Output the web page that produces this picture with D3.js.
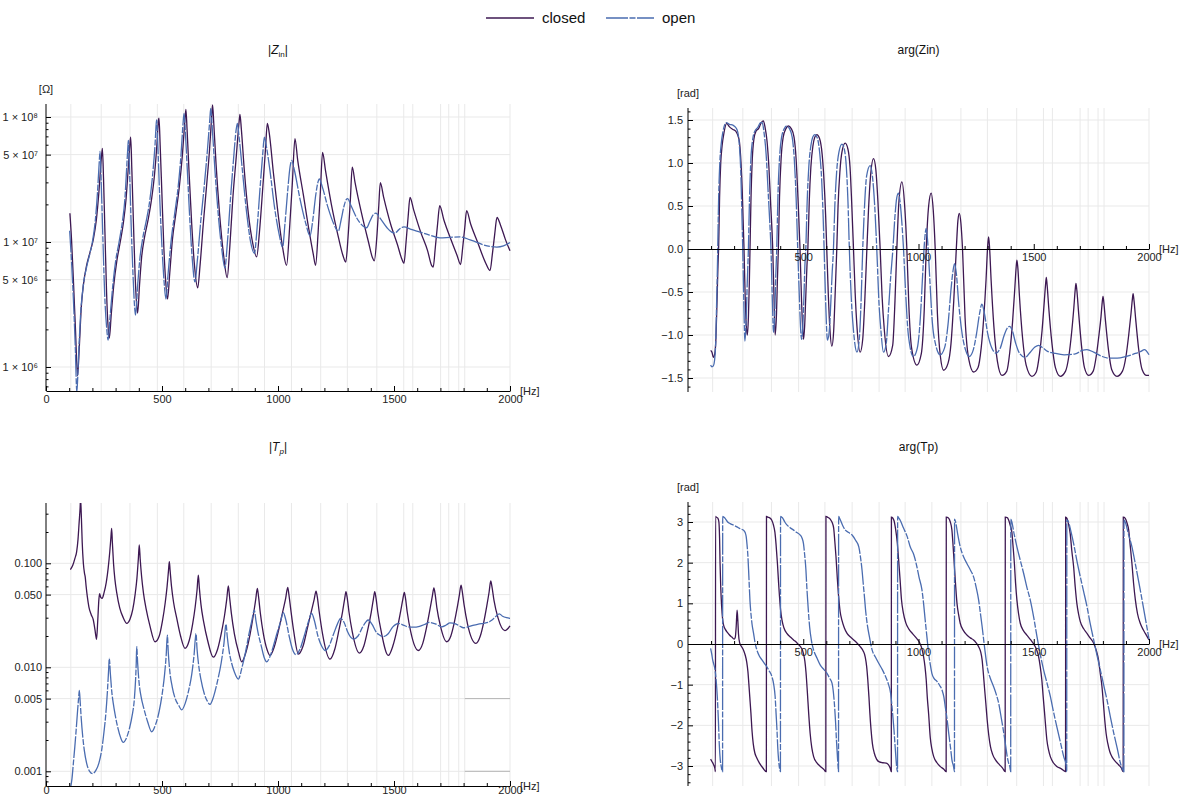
<!DOCTYPE html>
<html>
<head>
<meta charset="utf-8">
<script src="https://cdn.jsdelivr.net/npm/d3@7"></script>
<style>
body { margin: 0; background: #fff; }
</style>
</head>
<body>
<script>
// frequencies (Hz) of the vertical grid lines, same in every panel
const gridHz = [107, 238, 362, 480, 594, 712, 829, 942, 1058, 1184, 1299, 1426, 1542, 1581, 1701, 1736, 1779, 1805, 2000]

const seriesNames = ['closed', 'open']

// |Zin| [Ohm]
const zinClosed = [[103,1.7e7],[110,1.05e7],[118,5e6],[127,2e6],[136,8.5e5],[144,1.5e6],[152,3e6],[161,4.5e6],[175,6.5e6],[190,8.3e6],[204,1.05e7],[217,1.5e7],[228,2.5e7],[237,4.3e7],[243,5.6e7],[248,3.2e7],[254,1.2e7],[261,4e6],[267,2.2e6],[273,1.7e6],[281,2.6e6],[292,4.5e6],[305,7e6],[320,1e7],[333,1.4e7],[345,2.2e7],[355,4e7],[362,6.2e7],[365,6.9e7],[370,3.8e7],[377,1.4e7],[384,5.5e6],[390,3.3e6],[395,2.7e6],[403,4.5e6],[412,7.5e6],[425,1.1e7],[440,1.5e7],[455,2.2e7],[468,3.5e7],[478,6e7],[485,9.5e7],[487,9.8e7],[492,6e7],[500,2.3e7],[508,9e6],[516,4.8e6],[524,3.5e6],[533,5.5e6],[545,1.05e7],[560,1.7e7],[575,2.8e7],[588,5e7],[598,9e7],[603,1.15e8],[608,8e7],[617,3.5e7],[628,1.4e7],[640,6.5e6],[654,4.3e6],[664,6.5e6],[678,1.4e7],[692,2.8e7],[705,5.5e7],[714,1e8],[718,1.25e8],[723,9e7],[733,4.2e7],[748,1.7e7],[765,8e6],[781,5.2e6],[792,9e6],[805,2.2e7],[820,4.8e7],[832,9e7],[836,1.05e8],[842,8e7],[855,3.7e7],[872,1.7e7],[890,1e7],[908,7.6e6],[920,1.2e7],[933,2.5e7],[946,5.5e7],[954,8.9e7],[962,7.5e7],[980,3.6e7],[1000,1.7e7],[1020,9e6],[1037,6.5e6],[1050,1.3e7],[1062,3e7],[1073,6.7e7],[1085,4.5e7],[1109,2.4e7],[1135,1.2e7],[1152,8e6],[1162,6.5e6],[1173,1.2e7],[1183,2.6e7],[1192,5.2e7],[1205,3.7e7],[1230,2e7],[1260,1.1e7],[1280,7.8e6],[1292,6.9e6],[1302,1.1e7],[1312,2.2e7],[1320,3.97e7],[1332,3e7],[1360,1.7e7],[1390,1e7],[1407,7.5e6],[1415,7.07e6],[1426,1.1e7],[1434,1.9e7],[1441,2.98e7],[1455,2.3e7],[1485,1.4e7],[1515,9.5e6],[1535,7.2e6],[1543,6.76e6],[1552,1e7],[1561,1.6e7],[1569,2.27e7],[1585,1.8e7],[1615,1.2e7],[1645,8.5e6],[1662,6.5e6],[1669,6.3e6],[1678,9e6],[1688,1.4e7],[1697,1.95e7],[1715,1.5e7],[1745,1.05e7],[1772,7.8e6],[1787,6.6e6],[1796,9e6],[1805,1.3e7],[1813,1.78e7],[1830,1.4e7],[1860,1e7],[1895,6.8e6],[1914,5.9e6],[1924,8e6],[1934,1.15e7],[1944,1.57e7],[1960,1.35e7],[1980,1.05e7],[2000,8.5e6]]

const zinOpen = [[102,1.23e7],[110,7e6],[118,3.5e6],[126,1.5e6],[133,6.3e5],[140,1.2e6],[150,2.8e6],[160,4.4e6],[175,6.3e6],[190,8.2e6],[200,1.0e7],[212,1.45e7],[222,2.5e7],[229,4.2e7],[233,5.3e7],[238,3e7],[245,1.1e7],[253,3.8e6],[262,2e6],[268,1.64e6],[276,2.5e6],[288,4.5e6],[300,7e6],[315,1e7],[328,1.4e7],[340,2.2e7],[348,4e7],[353,5.8e7],[355,6.5e7],[360,3.8e7],[367,1.4e7],[375,5.5e6],[381,3.2e6],[386,2.6e6],[395,4.5e6],[405,7.5e6],[418,1.1e7],[433,1.5e7],[448,2.2e7],[460,3.5e7],[470,6e7],[475,8.8e7],[477,9.5e7],[482,6e7],[490,2.3e7],[500,9e6],[509,4.8e6],[517,3.5e6],[526,5.5e6],[540,1.05e7],[555,1.7e7],[570,2.8e7],[582,5e7],[591,9e7],[595,1.07e8],[600,8e7],[610,3.5e7],[620,1.5e7],[630,7.5e6],[642,4.8e6],[652,7e6],[666,1.4e7],[682,2.8e7],[696,5.5e7],[706,9.5e7],[710,1.17e8],[716,8.5e7],[728,3.8e7],[742,1.7e7],[757,9e6],[771,6.2e6],[782,1e7],[795,2.2e7],[808,4.5e7],[820,8e7],[825,8.9e7],[832,7e7],[845,4e7],[865,1.7e7],[882,1e7],[898,8.1e6],[910,1.3e7],[922,2.6e7],[934,5e7],[941,6.9e7],[950,5.8e7],[965,3.77e7],[985,1.9e7],[1005,1.15e7],[1020,9.1e6],[1030,1.4e7],[1042,2.6e7],[1052,4e7],[1059,4.5e7],[1070,3.8e7],[1095,2.2e7],[1120,1.4e7],[1138,1.12e7],[1150,1.5e7],[1163,2.4e7],[1172,3e7],[1178,3.2e7],[1190,2.8e7],[1215,1.9e7],[1240,1.4e7],[1260,1.22e7],[1272,1.5e7],[1285,1.95e7],[1294,2.18e7],[1300,2.22e7],[1315,1.95e7],[1340,1.55e7],[1365,1.35e7],[1382,1.3e7],[1395,1.45e7],[1410,1.65e7],[1422,1.7e7],[1440,1.55e7],[1470,1.3e7],[1490,1.2e7],[1504,1.18e7],[1520,1.25e7],[1535,1.31e7],[1543,1.32e7],[1570,1.27e7],[1612,1.2e7],[1650,1.14e7],[1698,1.08e7],[1740,1.09e7],[1784,1.1e7],[1828,1.04e7],[1860,9.9e6],[1885,9.5e6],[1915,9.2e6],[1943,9.1e6],[1972,9.3e6],[2000,9.9e6]]

// arg(Zin) [rad]
const argZinClosed = [[98,-1.18],[104,-1.2],[110,-1.26],[116,-1.22],[121,-1.05],[126,-0.6],[130,-0.2],[133,0.03],[137,0.6],[142,1.0],[148,1.2],[156,1.35],[168,1.46],[180,1.42],[195,1.39],[207,1.37],[215,1.33],[223,1.25],[230,1.0],[235,0.7],[239,0.35],[243,0],[248,-0.55],[253,-0.9],[257.6,-1.0],[262,-0.8],[266,-0.4],[269,0],[273,0.55],[279,1.05],[286,1.28],[295,1.37],[306,1.40],[318,1.47],[327,1.49],[334,1.42],[343,1.25],[351,0.95],[358,0.55],[367.6,0],[373,-0.55],[378,-1.0],[384,-0.75],[388,-0.35],[392,0],[397,0.6],[404,1.05],[413,1.3],[425,1.4],[435,1.43],[448,1.40],[460,1.3],[469,1.05],[477,0.6],[486,0],[492,-0.55],[497,-0.9],[501,-1.05],[506,-0.9],[511,-0.55],[516,-0.2],[520,0],[526,0.55],[533,0.95],[542,1.2],[550,1.3],[559,1.33],[570,1.29],[582,1.1],[590,0.8],[597,0.4],[602,0],[609,-0.55],[615,-0.9],[624,-1.13],[632,-0.95],[638,-0.55],[645.5,0],[651,0.5],[659,0.9],[668,1.13],[682,1.23],[694,1.16],[703,0.95],[710,0.55],[718,0],[725,-0.5],[733,-0.9],[747,-1.2],[758,-1.05],[767,-0.6],[776,0],[783,0.45],[792,0.85],[805,1.05],[815,0.92],[824,0.55],[833.7,0],[842,-0.55],[852,-0.95],[870,-1.25],[888,-1.12],[898,-0.6],[906,0],[915,0.55],[928,0.78],[940,0.5],[949.5,0],[958,-0.65],[970,-1.15],[993,-1.35],[1012,-1.22],[1025,-0.7],[1033.5,0],[1044,0.5],[1055,0.65],[1064,0.45],[1072.5,0],[1082,-0.75],[1095,-1.25],[1109,-1.41],[1128,-1.33],[1141,-1.1],[1153,-0.6],[1164,0],[1171,0.33],[1177,0.415],[1184,0.3],[1191,0],[1202,-0.8],[1218,-1.28],[1239,-1.43],[1258,-1.38],[1272,-1.15],[1283,-0.8],[1293,-0.36],[1300,0.03],[1304,0.14],[1308,0.03],[1315,-0.36],[1327,-0.9],[1342,-1.3],[1362,-1.47],[1383,-1.42],[1396,-1.2],[1408,-0.85],[1418,-0.45],[1424,-0.2],[1427,-0.13],[1431,-0.22],[1438,-0.55],[1452,-1.05],[1467,-1.35],[1492,-1.48],[1511,-1.43],[1525,-1.22],[1536,-0.95],[1546,-0.6],[1551,-0.42],[1554.5,-0.33],[1558,-0.42],[1565,-0.68],[1579,-1.1],[1594,-1.38],[1615,-1.48],[1638,-1.42],[1652,-1.25],[1664,-0.98],[1674,-0.68],[1680,-0.47],[1683,-0.40],[1687,-0.48],[1694,-0.72],[1707,-1.12],[1720,-1.38],[1738,-1.47],[1758,-1.42],[1771,-1.25],[1782,-1.02],[1792,-0.78],[1797,-0.62],[1800.5,-0.55],[1804,-0.62],[1811,-0.83],[1824,-1.17],[1838,-1.4],[1861,-1.48],[1885,-1.42],[1900,-1.25],[1912,-1.0],[1922,-0.75],[1928,-0.58],[1931,-0.52],[1935,-0.6],[1942,-0.81],[1955,-1.16],[1970,-1.4],[1990,-1.47],[2000,-1.47]]

const argZinOpen = [[98,-1.35],[104,-1.37],[110,-1.36],[115,-1.3],[120,-1.1],[124,-0.65],[127,-0.3],[129,0],[133,0.6],[138,1.0],[144,1.22],[152,1.37],[166,1.47],[180,1.45],[195,1.44],[208,1.41],[216,1.36],[223,1.2],[229,0.9],[233,0.5],[237.5,0],[242,-0.6],[247,-1.07],[252,-0.85],[257,-0.4],[262,0],[267,0.6],[273,1.05],[281,1.28],[290,1.37],[302,1.41],[315,1.47],[322,1.47],[330,1.35],[339,1.1],[347,0.7],[354,0.35],[360,0],[366,-0.6],[371,-0.97],[377,-0.7],[381,-0.3],[385,0],[390,0.6],[397,1.05],[406,1.3],[418,1.4],[428,1.43],[440,1.40],[452,1.3],[461,1.05],[469,0.6],[476,0],[483,-0.55],[488,-0.9],[493,-1.05],[498,-0.9],[503,-0.55],[507,-0.2],[511,0],[517,0.55],[524,0.95],[533,1.2],[541,1.3],[550,1.33],[561,1.29],[572,1.1],[580,0.8],[586,0.4],[590.5,0],[597,-0.6],[605,-1.06],[613,-0.95],[620,-0.6],[625,-0.3],[631,0],[637,0.5],[645,0.9],[655,1.13],[668,1.22],[679,1.15],[687,0.95],[694,0.55],[700,0],[708,-0.55],[718,-0.95],[733,-1.2],[743,-1.05],[751,-0.6],[758,0],[765,0.45],[775,0.85],[790,0.97],[800,0.85],[810,0.5],[819,0],[828,-0.6],[837,-0.95],[848,-1.2],[860,-1.1],[870,-0.7],[880,-0.3],[889,0],[897,0.35],[906,0.6],[913,0.65],[920,0.55],[928,0.3],[935,0],[944,-0.5],[956,-1.0],[978,-1.25],[995,-1.15],[1008,-0.8],[1018,-0.3],[1026,0.08],[1033.5,0.24],[1040,0.08],[1048,-0.3],[1060,-0.85],[1075,-1.12],[1094,-1.23],[1113,-1.15],[1128,-0.88],[1140,-0.5],[1150,-0.25],[1156.5,-0.17],[1164,-0.28],[1175,-0.65],[1190,-1.0],[1205,-1.18],[1220,-1.25],[1238,-1.17],[1252,-0.98],[1265,-0.75],[1275,-0.64],[1286,-0.75],[1300,-0.98],[1318,-1.15],[1337,-1.21],[1355,-1.15],[1372,-1.0],[1385,-0.92],[1395,-0.9],[1407,-0.95],[1422,-1.1],[1440,-1.22],[1463,-1.26],[1485,-1.2],[1505,-1.14],[1521,-1.12],[1540,-1.15],[1560,-1.19],[1588,-1.21],[1632,-1.23],[1680,-1.22],[1710,-1.18],[1731,-1.17],[1760,-1.2],[1797,-1.25],[1830,-1.27],[1862,-1.27],[1900,-1.25],[1935,-1.22],[1965,-1.19],[1980,-1.17],[2000,-1.23]]

// |Tp|
const tpClosed = [[105,0.087],[115,0.095],[125,0.112],[132,0.129],[138,0.17],[143,0.25],[147,0.34],[149,0.42],[152,0.3],[156,0.16],[161,0.1],[166,0.08],[169,0.074],[173,0.06],[178,0.048],[185,0.038],[195,0.032],[204,0.0285],[211,0.023],[218,0.0186],[223,0.028],[228,0.045],[231,0.051],[236,0.047],[242,0.046],[250,0.052],[260,0.066],[268,0.09],[275,0.13],[280,0.18],[283,0.217],[286,0.16],[291,0.1],[297,0.07],[305,0.052],[318,0.037],[333,0.03],[348,0.0265],[362,0.029],[374,0.036],[384,0.05],[392,0.072],[398,0.11],[402,0.15],[406,0.11],[412,0.075],[420,0.052],[432,0.036],[448,0.025],[470,0.0176],[488,0.02],[502,0.028],[514,0.042],[522,0.06],[528,0.085],[531.6,0.1035],[535,0.085],[541,0.06],[550,0.042],[563,0.03],[580,0.02],[599,0.0152],[617,0.018],[632,0.026],[643,0.038],[651,0.055],[656.6,0.077],[661,0.058],[668,0.04],[680,0.027],[697,0.018],[721,0.0125],[740,0.015],[757,0.022],[770,0.032],[779,0.045],[786,0.0605],[791,0.048],[799,0.033],[812,0.021],[830,0.014],[843.5,0.0113],[862,0.014],[880,0.021],[894,0.032],[904,0.045],[911,0.0575],[916,0.048],[924,0.033],[937,0.021],[952,0.015],[965.5,0.013],[985,0.016],[1005,0.024],[1020,0.034],[1033,0.046],[1042,0.0588],[1047,0.05],[1055,0.036],[1068,0.022],[1088,0.0134],[1108,0.016],[1127,0.024],[1143,0.034],[1156,0.045],[1164,0.054],[1169,0.048],[1177,0.035],[1192,0.021],[1224,0.012],[1245,0.015],[1263,0.023],[1278,0.034],[1287,0.045],[1293,0.0533],[1298,0.047],[1306,0.034],[1320,0.022],[1350.6,0.0137],[1370,0.016],[1387,0.023],[1402,0.034],[1411,0.045],[1417,0.0533],[1422,0.047],[1430,0.034],[1445,0.022],[1475.5,0.013],[1495,0.016],[1513,0.023],[1528,0.034],[1538,0.045],[1544.5,0.0525],[1549,0.047],[1557,0.034],[1572,0.022],[1605,0.0145],[1624,0.017],[1640,0.024],[1655,0.036],[1665,0.048],[1672,0.058],[1677,0.051],[1685,0.037],[1700,0.025],[1727,0.0176],[1745,0.02],[1760,0.027],[1772,0.037],[1782,0.05],[1789,0.0617],[1794,0.054],[1802,0.04],[1817,0.026],[1853,0.017],[1872,0.02],[1888,0.028],[1900,0.039],[1910,0.053],[1917,0.0676],[1922,0.06],[1931,0.044],[1948,0.03],[1978,0.0225],[2000,0.025]]

const tpOpen = [[105,6.8e-4],[112,8.5e-4],[118,1.2e-3],[124,1.7e-3],[130,2.5e-3],[136,3.8e-3],[141,5.2e-3],[143.7,6e-3],[147,4.8e-3],[152,3.2e-3],[158,2.2e-3],[165,1.6e-3],[175,1.2e-3],[188,1.0e-3],[201,9.5e-4],[215,1.02e-3],[228,1.2e-3],[240,1.6e-3],[250,2.4e-3],[258,3.6e-3],[265,6e-3],[270,9.5e-3],[273,0.0122],[277,9e-3],[283,6e-3],[290,4.5e-3],[298,3.5e-3],[310,2.6e-3],[322,2.1e-3],[333,1.9e-3],[347,2.1e-3],[360,2.6e-3],[372,3.5e-3],[381,5e-3],[386,7.5e-3],[389,0.011],[391,0.0158],[395,0.011],[401,7.2e-3],[410,5.2e-3],[422,4e-3],[438,3e-3],[455.5,2.4e-3],[472,2.8e-3],[488,3.8e-3],[502,5.8e-3],[511,8.5e-3],[518,0.013],[523,0.0204],[527,0.014],[534,9e-3],[544,6.5e-3],[557,5e-3],[572,4.3e-3],[585,3.9e-3],[600,4.5e-3],[615,6e-3],[628,8.5e-3],[638,0.013],[646.6,0.0212],[651,0.015],[658,0.0105],[668,7.6e-3],[682,5.6e-3],[696,4.7e-3],[707,4.4e-3],[722,5.2e-3],[740,7.5e-3],[755,0.011],[767,0.017],[776,0.026],[781,0.02],[790,0.014],[800,0.011],[812,9e-3],[829,7.7e-3],[845,0.01],[860,0.014],[875,0.021],[887,0.028],[898,0.0355],[905,0.028],[915,0.021],[928,0.016],[940,0.0125],[951,0.0113],[965,0.0126],[980,0.016],[995,0.021],[1010,0.027],[1023,0.0335],[1033,0.029],[1048,0.02],[1062,0.015],[1077.6,0.0132],[1095,0.015],[1113,0.02],[1130,0.027],[1145,0.033],[1157,0.028],[1172,0.02],[1188,0.016],[1202.6,0.0145],[1220,0.016],[1240,0.021],[1256,0.026],[1270,0.0295],[1285,0.027],[1300,0.022],[1313,0.0195],[1325,0.0187],[1345,0.02],[1365,0.0245],[1380,0.0275],[1389,0.0285],[1405,0.026],[1425,0.0215],[1440,0.0203],[1454,0.0197],[1475,0.021],[1495,0.0245],[1510,0.026],[1518.5,0.0265],[1540,0.0255],[1560,0.0245],[1583,0.0243],[1610,0.0248],[1635,0.026],[1652,0.027],[1678,0.0262],[1705.5,0.0245],[1725,0.0255],[1741,0.0267],[1765,0.0262],[1785,0.0248],[1799,0.024],[1820,0.0245],[1845,0.0255],[1863.5,0.026],[1885,0.0265],[1905,0.027],[1921,0.0283],[1940,0.031],[1954,0.0327],[1968,0.031],[1985,0.03],[2000,0.0296]]

// arg(Tp) [rad]
const argTpClosed = [[98,-2.83],[105,-2.9],[112,-2.98],[117,-3.07],[119,-3.14],[119.5,3.14],[123,3.12],[130,3.09],[134,3.0],[137,2.6],[139,2.0],[142,1.4],[146,0.92],[150,0.62],[155,0.45],[162,0.36],[170,0.29],[180,0.22],[190,0.17],[200,0.12],[205,0.16],[209,0.42],[213,0.83],[216,0.6],[219,0.25],[224,0.03],[232,-0.06],[240,-0.14],[248,-0.27],[255,-0.45],[260,-0.68],[264,-0.98],[268,-1.3],[273,-1.70],[278,-2.15],[283,-2.45],[290,-2.68],[298,-2.8],[310,-2.93],[325,-3.05],[340,-3.14],[340.5,3.14],[346,3.12],[355,3.1],[363,3.05],[371,2.92],[377,2.75],[382,2.45],[388,1.98],[393,1.5],[397,1.16],[402,0.82],[408,0.58],[416,0.4],[429,0.26],[444,0.17],[458,0.1],[472,0.03],[487,-0.06],[495,-0.13],[501,-0.24],[507,-0.42],[512,-0.7],[518,-1.2],[523.5,-1.70],[530,-2.2],[537,-2.55],[545,-2.77],[560,-2.93],[574,-3.01],[590,-3.09],[598,-3.14],[598.5,3.14],[605,3.12],[617,3.07],[626,2.98],[632,2.85],[637,2.52],[642,2.15],[648,1.6],[653.6,1.16],[660,0.8],[668,0.58],[678,0.4],[690,0.26],[705,0.17],[719,0.1],[734,0.02],[748,-0.07],[760,-0.17],[769,-0.32],[775,-0.55],[780,-0.88],[785,-1.3],[789,-1.70],[794,-2.1],[800,-2.45],[808,-2.68],[818,-2.83],[830,-2.9],[845,-2.92],[860,-2.93],[870,-2.97],[877,-3.05],[882,-3.14],[882.5,3.12],[888,3.1],[894,3.03],[900,2.85],[908,2.49],[914,2.05],[920,1.59],[926,1.1],[934,0.77],[945,0.52],[959,0.36],[975,0.25],[993,0.13],[1005,0.03],[1014,-0.1],[1022,-0.31],[1028,-0.55],[1033.5,-0.88],[1038,-1.3],[1044,-1.72],[1051,-2.3],[1058,-2.58],[1066,-2.77],[1080,-2.92],[1094,-3.01],[1110,-3.08],[1120,-3.14],[1120.5,3.12],[1130,3.1],[1138,3.0],[1145,2.8],[1150,2.42],[1155,1.98],[1161,1.45],[1167,1.0],[1174,0.72],[1181,0.51],[1195,0.33],[1210,0.22],[1225,0.15],[1239,0.1],[1250,0.03],[1261,-0.07],[1270,-0.2],[1276,-0.39],[1281,-0.7],[1286,-1.05],[1292,-1.45],[1298,-1.87],[1305,-2.25],[1312,-2.52],[1322,-2.72],[1334,-2.85],[1350,-2.96],[1365,-3.05],[1376,-3.14],[1376.5,3.12],[1385,3.11],[1391,3.05],[1398,2.92],[1405,2.75],[1410,2.42],[1416,1.98],[1421,1.5],[1427,1.08],[1434,0.75],[1441.5,0.51],[1455,0.33],[1470,0.22],[1487,0.1],[1502,-0.02],[1513,-0.15],[1521,-0.31],[1528,-0.55],[1535,-0.88],[1541,-1.3],[1547,-1.70],[1552,-2.05],[1557,-2.36],[1564,-2.6],[1572,-2.77],[1585,-2.92],[1600,-3.01],[1620,-3.07],[1638,-3.14],[1638.5,3.12],[1644,3.09],[1651,2.95],[1658,2.72],[1665,2.3],[1673,1.9],[1680,1.4],[1687,1.0],[1694,0.75],[1702,0.55],[1716,0.38],[1731,0.26],[1746,0.14],[1760,0.02],[1771,-0.15],[1781,-0.39],[1788,-0.7],[1796,-1.05],[1802,-1.45],[1808,-1.87],[1814,-2.2],[1821,-2.44],[1830,-2.65],[1839,-2.77],[1853,-2.88],[1868,-2.97],[1880,-3.05],[1888,-3.14],[1888.5,3.12],[1897,3.09],[1905,2.97],[1912,2.8],[1918,2.45],[1926,1.98],[1933,1.5],[1941,1.08],[1950,0.75],[1962,0.51],[1975,0.35],[1984,0.26],[2000,0.1]]

const argTpOpen = [[98,-0.11],[103,-0.25],[107,-0.39],[112,-0.5],[117,-0.62],[122,-0.88],[127,-1.29],[132,-1.9],[136,-2.5],[140,-2.85],[144,-3.01],[150,-3.14],[150.5,3.14],[155,3.12],[161,3.09],[172,3.0],[183,2.96],[198,2.92],[212,2.88],[228,2.83],[241,2.8],[248,2.74],[252.5,2.64],[256,2.45],[260,2.15],[263,1.8],[266,1.41],[269,1.05],[273,0.75],[278,0.48],[284.5,0.26],[291,0.03],[299,-0.15],[310,-0.3],[321,-0.39],[332,-0.48],[342,-0.56],[352,-0.66],[364,-0.8],[372,-1.0],[378,-1.29],[382,-1.7],[386,-2.11],[389,-2.5],[393,-2.85],[397,-3.05],[401,-3.14],[401.5,3.14],[406,3.12],[411.5,3.09],[420,3.0],[429,2.93],[443,2.86],[458,2.8],[472,2.74],[487,2.68],[495,2.6],[501,2.47],[506,2.2],[511.6,1.82],[515,1.45],[519,1.08],[523,0.75],[527.5,0.43],[535,0.1],[545,-0.15],[560,-0.35],[574,-0.52],[590,-0.63],[603,-0.72],[615,-0.85],[625,-0.97],[630,-1.15],[635,-1.46],[640,-1.9],[644,-2.36],[648,-2.75],[651,-3.01],[653,-3.14],[653.5,3.14],[657,3.1],[661,3.05],[672,2.9],[683,2.8],[697,2.74],[712,2.68],[727,2.55],[741,2.39],[748,2.15],[755,1.82],[760,1.5],[765.5,1.16],[771,0.8],[777,0.51],[788,0.15],[799,-0.15],[813,-0.32],[828,-0.48],[843,-0.63],[857,-0.8],[869,-0.98],[879,-1.21],[886,-1.6],[893.6,-2.11],[899,-2.55],[905,-3.01],[909,-3.14],[909.5,3.14],[914,3.1],[920,3.05],[935,2.85],[951,2.64],[964,2.39],[980,2.19],[993,1.9],[1002,1.65],[1015,1.33],[1022,1.0],[1029,0.59],[1037,0.15],[1044,-0.23],[1051,-0.5],[1058,-0.72],[1068,-0.85],[1080,-0.92],[1092,-1.02],[1102,-1.13],[1110,-1.3],[1116,-1.54],[1124,-1.85],[1131,-2.19],[1140,-2.6],[1145,-2.85],[1152,-3.01],[1156,-3.14],[1156.5,3.07],[1161,3.0],[1170,2.7],[1181,2.39],[1195,2.15],[1210,1.98],[1225,1.82],[1239,1.65],[1250,1.4],[1261,1.08],[1268,0.78],[1276,0.43],[1287,-0.1],[1298,-0.56],[1312,-0.85],[1326,-1.05],[1338,-1.25],[1348,-1.46],[1360,-1.85],[1370,-2.19],[1378,-2.5],[1385,-2.77],[1392,-2.95],[1396,-3.01],[1400,-3.14],[1400.5,3.07],[1405,3.0],[1415,2.7],[1427,2.39],[1442,2.05],[1456,1.74],[1470,1.4],[1485,1.08],[1500,0.65],[1514,0.18],[1528,-0.25],[1543,-0.64],[1557,-0.95],[1572,-1.29],[1585,-1.65],[1600,-2.03],[1615,-2.4],[1630,-2.77],[1641,-3.0],[1643,-3.14],[1643.5,3.05],[1651,3.0],[1662,2.75],[1673,2.47],[1687,2.05],[1702,1.65],[1716,1.3],[1731,0.92],[1745,0.5],[1760,0.1],[1774,-0.27],[1789,-0.64],[1803,-1.0],[1818,-1.38],[1832,-1.78],[1847,-2.19],[1862,-2.56],[1876,-2.93],[1888,-3.11],[1891,-3.14],[1891.5,3.05],[1897,3.0],[1910,2.72],[1926,2.39],[1943,1.9],[1962,1.33],[1982,0.7],[2000,0.12]]

// tick values
const hzMajorL = [0, 500, 1000, 1500, 2000]
const hzMajorR = [500, 1000, 1500, 2000]
const hzMinor = [100, 200, 300, 400, 600, 700, 800, 900, 1100, 1200, 1300, 1400, 1600, 1700, 1800, 1900]
const zinMajor = [1e6, 5e6, 1e7, 5e7, 1e8]
const zinMinor = [7e5, 8e5, 9e5, 2e6, 3e6, 4e6, 6e6, 7e6, 8e6, 9e6, 2e7, 3e7, 4e7, 6e7, 7e7, 8e7, 9e7]
const argZinMajor = [-1.5, -1, -0.5, 0, 0.5, 1, 1.5]
const argZinMinor = d3.range(-16, 17).filter(d => d % 5 !== 0).map(d => d / 10)
const tpMajor = [0.001, 0.005, 0.01, 0.05, 0.1]
const tpMinor = [8e-4, 9e-4, 2e-3, 3e-3, 4e-3, 6e-3, 7e-3, 8e-3, 9e-3, 0.02, 0.03, 0.04, 0.06, 0.07, 0.08, 0.09, 0.2, 0.3]
const argTpMajor = [-3, -2, -1, 0, 1, 2, 3]
const argTpMinor = d3.range(-17, 18).filter(d => d % 5 !== 0).map(d => d / 5)

const FONT = '"Liberation Sans", Arial, Helvetica, sans-serif'
const closedColor = '#3d1852'
const openColor = '#4a6cb0'
const openDash = '22,1.5,6,1.5'
const gridColor = '#e9e9e9'

const svg = d3.select('body').append('svg')
    .attr('width', 1180)
    .attr('height', 798)
    .style('background-color', '#fff')
    .attr('font-family', FONT)

const xL = d3.scaleLinear().domain([0, 2000]).range([46, 510])
const xR = d3.scaleLinear().domain([0, 2000]).range([688, 1149])

const yZin = d3.scaleLog().domain([1e6, 1e8]).range([367, 117])
const yArgZin = d3.scaleLinear().domain([-1.5, 1.5]).range([378, 120])
const yTp = d3.scaleLog().domain([0.001, 0.1]).range([771.3, 563.3])
const yArgTp = d3.scaleLinear().domain([-3, 3]).range([766, 522])

const sup = '⁰¹²³⁴⁵⁶⁷⁸⁹'

function drawPanel(p) {
    const x = p.x, y = p.y
    const g = svg.append('g')
    const x0 = x(0), x1 = x(2000)

    // grid
    g.append('g').selectAll('line').data(gridHz).join('line')
        .attr('x1', d => x(d)).attr('x2', d => x(d))
        .attr('y1', p.top).attr('y2', p.bottom)
        .attr('stroke', gridColor).attr('stroke-width', 1)
    g.append('g').selectAll('line').data(p.yMajor.filter(d => y(d) !== p.axisY)).join('line')
        .attr('x1', x0).attr('x2', x1)
        .attr('y1', d => y(d)).attr('y2', d => y(d))
        .attr('stroke', gridColor).attr('stroke-width', 1)
    if (p.darkGrid) {
        g.append('g').selectAll('line').data(p.darkGrid.values).join('line')
            .attr('x1', x(p.darkGrid.from)).attr('x2', x1)
            .attr('y1', d => y(d)).attr('y2', d => y(d))
            .attr('stroke', '#b5b5b5').attr('stroke-width', 1)
    }

    // curves
    const clipId = 'clip-' + p.id
    svg.append('clipPath').attr('id', clipId)
        .append('rect')
        .attr('x', x0).attr('y', p.top)
        .attr('width', x1 - x0 + 2).attr('height', p.bottom - p.top)

    const line = d3.line()
        .x(d => x(d[0]))
        .y(d => y(d[1]))
        .curve(d3.curveMonotoneX)

    const curves = g.append('g').attr('clip-path', `url(#${clipId})`)
    curves.append('path')
        .datum(p.closed)
        .style('stroke', closedColor)
        .style('stroke-width', 1.3)
        .style('fill', 'none')
        .attr('d', line)
    curves.append('path')
        .datum(p.open)
        .style('stroke', openColor)
        .style('stroke-width', 1.3)
        .style('stroke-dasharray', openDash)
        .style('fill', 'none')
        .attr('d', line)

    // x axis
    const xa = g.append('g').attr('transform', `translate(0,${p.axisY})`)
    xa.call(d3.axisBottom(x).tickValues(p.xMajor).tickSize(-5).tickSizeOuter(0).tickPadding(p.xPad).tickFormat(d3.format('d')))
    xa.append('g').call(d3.axisBottom(x).tickValues(hzMinor).tickSize(-3).tickSizeOuter(0).tickFormat(''))
        .select('.domain').remove()
    xa.attr('font-family', FONT).attr('font-size', 11)
    xa.selectAll('.tick text').attr('fill', '#222')

    // y axis
    const ya = g.append('g').attr('transform', `translate(${x0},0)`)
    ya.call(d3.axisLeft(y).tickValues(p.yMajor).tickSize(-5).tickPadding(p.yPad).tickFormat(p.yFormat))
    ya.select('.domain').remove()
    ya.append('g').call(d3.axisLeft(y).tickValues(p.yMinor).tickSize(-2.5).tickFormat(''))
        .select('.domain').remove()
    ya.append('line').attr('y1', p.top).attr('y2', p.bottom).attr('stroke', '#000')
    ya.attr('font-family', FONT).attr('font-size', 11)
    ya.selectAll('.tick text').attr('fill', '#222')

    // units
    if (p.unit) {
        g.append('text').attr('x', x0).attr('y', p.top - 11)
            .attr('text-anchor', 'middle').attr('font-size', 11).attr('fill', '#222')
            .text(p.unit)
    }
    g.append('text').attr('x', x1 + 10).attr('y', p.axisY + 4)
        .attr('font-size', 11).attr('fill', '#222')
        .text('[Hz]')

    // title
    const t = g.append('text').attr('x', (x0 + x1) / 2).attr('y', p.titleY)
        .attr('text-anchor', 'middle').attr('font-size', 12).attr('fill', '#111')
    p.title(t)
}

drawPanel({
    id: 'zin', x: xL, y: yZin, top: 104, bottom: 391, axisY: 391,
    xMajor: hzMajorL, xPad: 4, yMajor: zinMajor, yMinor: zinMinor, yPad: 8,
    yFormat: d => {
        const e = Math.floor(Math.log10(d) + 1e-9)
        const m = Math.round(d / Math.pow(10, e))
        return m + ' × 10' + sup[e]
    },
    unit: '[Ω]', closed: zinClosed, open: zinOpen, titleY: 54,
    title: t => {
        t.append('tspan').text('|')
        t.append('tspan').attr('font-style', 'italic').text('Z')
        t.append('tspan').attr('font-size', 8).attr('dy', 3).text('in')
        t.append('tspan').attr('dy', -3).text('|')
    }
})

drawPanel({
    id: 'argzin', x: xR, y: yArgZin, top: 108, bottom: 392, axisY: yArgZin(0),
    xMajor: hzMajorR, xPad: 4, yMajor: argZinMajor, yMinor: argZinMinor, yPad: 5,
    yFormat: d3.format('.1f'),
    unit: '[rad]', closed: argZinClosed, open: argZinOpen, titleY: 54,
    title: t => t.text('arg(Zin)')
})

drawPanel({
    id: 'tp', x: xL, y: yTp, top: 503, bottom: 786, axisY: 786,
    xMajor: hzMajorL, xPad: 0, yMajor: tpMajor, yMinor: tpMinor, yPad: 4,
    yFormat: d3.format('.3f'),
    darkGrid: {from: 1805, values: [0.005, 0.001]},
    unit: null, closed: tpClosed, open: tpOpen, titleY: 451,
    title: t => {
        t.append('tspan').text('|')
        t.append('tspan').attr('font-style', 'italic').text('T')
        t.append('tspan').attr('font-size', 8).attr('font-style', 'italic').attr('dy', 3).text('p')
        t.append('tspan').attr('dy', -3).text('|')
    }
})

drawPanel({
    id: 'argtp', x: xR, y: yArgTp, top: 502, bottom: 786, axisY: yArgTp(0),
    xMajor: hzMajorR, xPad: 4, yMajor: argTpMajor, yMinor: argTpMinor, yPad: 5,
    yFormat: d3.format('d'),
    unit: '[rad]', closed: argTpClosed, open: argTpOpen, titleY: 451,
    title: t => t.text('arg(Tp)')
})

// legend
const legend = svg.append('g').attr('transform', 'translate(486,18)')
const legendItems = legend.selectAll('g').data(seriesNames).join('g')
    .attr('transform', (d, i) => `translate(${i * 120},0)`)
legendItems.append('line')
    .attr('x1', 0).attr('x2', 48)
    .attr('stroke', (d, i) => i === 0 ? closedColor : openColor)
    .attr('stroke-width', 1.6)
    .attr('stroke-dasharray', (d, i) => i === 0 ? null : openDash)
legendItems.append('text')
    .attr('x', 56).attr('y', 5)
    .attr('font-size', 15).attr('fill', '#111')
    .text(d => d)
</script>
</body>
</html>
